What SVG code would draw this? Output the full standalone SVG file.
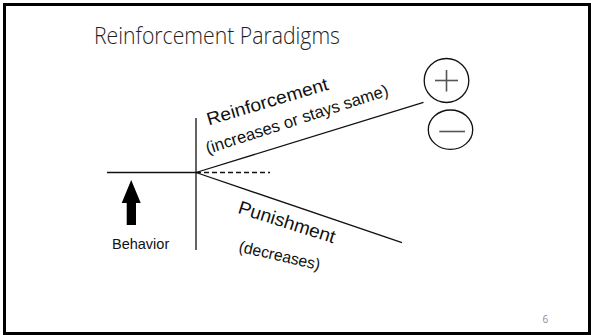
<svg xmlns="http://www.w3.org/2000/svg" width="591" height="335" viewBox="0 0 591 335">
  <style>
    .title { font-family: "Open Sans", "Liberation Sans", sans-serif; font-size: 23px; font-weight: 300; fill: #1e1e1e; }
    .lbl { font-family: "Liberation Sans", Arial, sans-serif; fill: #111; }
    .ln { stroke: #111; stroke-width: 1.3; fill: none; }
    .sym { stroke: #555; stroke-width: 1.6; fill: none; }
    .ring { fill: none; stroke: #111; stroke-width: 1.3; }
    .page { font-family: "Open Sans", "Liberation Sans", sans-serif; font-size: 10px; fill: #8c8c8c; }
  </style>

  <!-- slide frame -->
  <rect x="0" y="0" width="591" height="335" fill="#ffffff"/>
  <rect x="4.5" y="4.5" width="585" height="329" fill="none" stroke="#000" stroke-width="3"/>

  <text class="title" x="94" y="44" textLength="246" lengthAdjust="spacingAndGlyphs">Reinforcement Paradigms</text>

  <!-- connectors: axes and branching outcome lines -->
  <g id="connectors">
    <line class="ln" x1="196" y1="118" x2="196" y2="250"/>
    <line class="ln" x1="107" y1="172.5" x2="196" y2="172.5"/>
    <line class="ln" x1="196" y1="172.5" x2="270" y2="172.5" stroke-dasharray="5 3"/>
    <line class="ln" x1="196" y1="172.5" x2="423.5" y2="102.3"/>
    <line class="ln" x1="196" y1="172.5" x2="402" y2="242.7"/>
  </g>

  <g id="behavior">
    <polygon points="131.2,180 121.7,203 126.7,203 126.7,225 136,225 136,203 140.7,203" fill="#000"/>
    <text class="lbl" x="112" y="249" font-size="14.5">Behavior</text>
  </g>

  <g id="reinforcement">
    <text class="lbl" font-size="18" textLength="126" lengthAdjust="spacingAndGlyphs" transform="translate(208.7,125.4) rotate(-16.6)">Reinforcement</text>
    <text class="lbl" font-size="16.7" textLength="191" lengthAdjust="spacingAndGlyphs" transform="translate(207.8,154.1) rotate(-18)">(increases or stays same)</text>
  </g>

  <g id="punishment">
    <text class="lbl" font-size="18.5" textLength="101" lengthAdjust="spacingAndGlyphs" transform="translate(236.9,212.8) rotate(17.6)">Punishment</text>
    <text class="lbl" font-size="16" textLength="83" lengthAdjust="spacingAndGlyphs" transform="translate(238,251.5) rotate(13)">(decreases)</text>
  </g>

  <g id="plus">
    <ellipse class="ring" cx="446.5" cy="80.5" rx="22.3" ry="22"/>
    <line class="sym" x1="435" y1="80.5" x2="458" y2="80.5"/>
    <line class="sym" x1="446.5" y1="70" x2="446.5" y2="91.5"/>
  </g>

  <g id="minus">
    <ellipse class="ring" cx="450.5" cy="129.7" rx="22.2" ry="19.7"/>
    <line class="sym" x1="439.3" y1="131.5" x2="465" y2="131.5"/>
  </g>

  <text class="page" x="542.5" y="323">6</text>
</svg>
